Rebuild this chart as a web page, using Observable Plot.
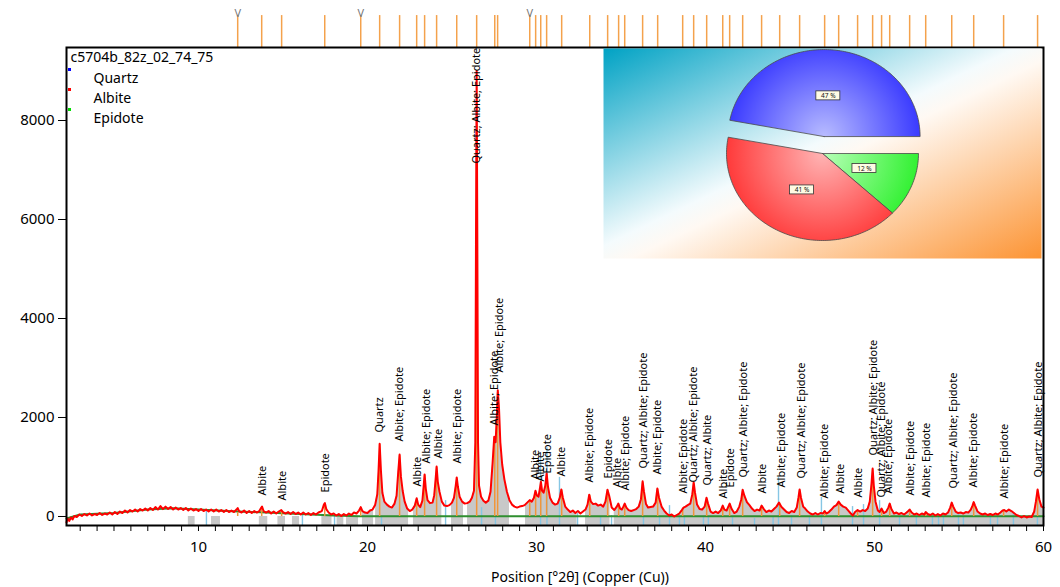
<!DOCTYPE html>
<html><head><meta charset="utf-8">
<script src="https://cdn.jsdelivr.net/npm/d3@7"></script>
<script src="https://cdn.jsdelivr.net/npm/@observablehq/plot@0.6"></script>
<style>
body{margin:0;background:#fff;}
#wrap{position:relative;width:1060px;height:587px;font-family:"Noto Sans",sans-serif;}
#main{position:absolute;left:0;top:0;}
#inset{position:absolute;left:603px;top:48px;}
</style></head><body><div id="wrap"><div id="main"></div><div id="inset"></div></div>
<script>
// ---------------- data ----------------
const sampleName = "c5704b_82z_02_74_75";
const axisTitle = "Position [°2θ] (Copper (Cu))";
const phases = ["Quartz", "Albite", "Epidote"];
const phasePercent = [47, 41, 12];
const xTicks = [10, 20, 30, 40, 50, 60];
const xMinorTicks = d3.range(3, 60);
const yTicks = [0, 2000, 4000, 6000, 8000];

// measured pattern: [2theta, counts]
const profile = [
[2.19,-120],[2.25,-40],[2.35,-90],[2.45,-20],[2.55,-60],[2.65,10],[2.8,-10],[2.95,40],[3.1,10],[3.25,50],[3.4,20],[3.55,60],[3.7,20],[3.85,50],[4.0,30],[4.15,70],[4.3,30],[4.45,60],[4.6,40],[4.75,80],[4.9,40],[5.05,90],[5.2,50],[5.35,100],[5.5,70],[5.65,120],[5.8,80],[5.95,130],[6.1,100],[6.25,140],[6.4,100],[6.55,150],[6.7,120],[6.85,160],[7.0,120],[7.15,170],[7.3,130],[7.45,190],[7.6,140],[7.75,210],[7.9,150],[8.05,200],[8.2,150],[8.35,190],[8.5,140],[8.65,180],[8.8,140],[8.95,170],[9.1,130],[9.25,170],[9.4,120],[9.55,160],[9.7,120],[9.85,150],[10.0,110],[10.15,150],[10.3,110],[10.45,140],[10.6,100],[10.75,140],[10.9,100],[11.05,140],[11.2,100],[11.35,130],[11.5,90],[11.65,130],[11.8,90],[11.95,120],[12.1,90],[12.25,140],[12.32,170],[12.4,110],[12.55,80],[12.7,120],[12.85,70],[13.0,110],[13.15,70],[13.3,110],[13.45,80],[13.6,110],[13.7,170],[13.76,200],[13.85,110],[14.0,80],[14.15,110],[14.3,60],[14.45,100],[14.6,60],[14.75,100],[14.9,130],[15.0,90],[15.15,60],[15.3,90],[15.45,50],[15.6,90],[15.75,50],[15.9,80],[16.05,40],[16.2,80],[16.35,40],[16.5,70],[16.65,30],[16.8,70],[16.95,40],[17.1,80],[17.3,110],[17.42,240],[17.48,270],[17.56,150],[17.7,80],[17.85,40],[18.0,60],[18.15,20],[18.3,50],[18.45,10],[18.6,50],[18.75,20],[18.9,60],[19.05,30],[19.2,80],[19.35,60],[19.5,120],[19.6,190],[19.7,110],[19.85,80],[20.0,70],[20.15,120],[20.3,140],[20.45,230],[20.58,450],[20.65,900],[20.72,1470],[20.8,900],[20.88,480],[21.0,300],[21.15,240],[21.3,200],[21.45,180],[21.6,260],[21.72,420],[21.82,900],[21.9,1250],[21.98,800],[22.08,520],[22.2,300],[22.35,160],[22.5,110],[22.65,140],[22.8,220],[22.91,370],[23.0,240],[23.12,190],[23.25,320],[23.32,600],[23.38,850],[23.45,560],[23.55,330],[23.7,270],[23.85,280],[23.95,430],[24.03,750],[24.09,1010],[24.16,700],[24.26,500],[24.4,300],[24.55,220],[24.7,210],[24.85,230],[25.0,280],[25.12,380],[25.22,620],[25.28,790],[25.35,600],[25.45,400],[25.6,300],[25.75,260],[25.9,270],[26.05,300],[26.18,380],[26.3,520],[26.38,1500],[26.42,5600],[26.46,9000],[26.5,5500],[26.54,1500],[26.6,620],[26.72,400],[26.86,320],[27.0,280],[27.15,320],[27.28,500],[27.4,1070],[27.5,1610],[27.58,1500],[27.65,2000],[27.71,2550],[27.78,2200],[27.86,1500],[27.97,1050],[28.1,750],[28.25,500],[28.4,330],[28.55,240],[28.7,200],[28.85,180],[29.0,200],[29.15,210],[29.3,230],[29.45,280],[29.6,330],[29.72,300],[29.85,380],[29.94,520],[30.03,420],[30.12,400],[30.2,560],[30.26,700],[30.33,520],[30.42,480],[30.52,620],[30.6,870],[30.68,600],[30.8,380],[30.95,280],[31.1,240],[31.25,260],[31.38,380],[31.47,545],[31.56,380],[31.7,200],[31.85,140],[32.0,90],[32.15,120],[32.3,70],[32.45,110],[32.6,60],[32.75,100],[32.9,140],[33.02,240],[33.12,440],[33.22,300],[33.35,250],[33.5,260],[33.65,220],[33.8,240],[33.95,200],[34.08,300],[34.2,540],[34.3,420],[34.45,180],[34.6,130],[34.75,200],[34.84,260],[34.95,160],[35.05,140],[35.14,200],[35.22,260],[35.32,180],[35.45,130],[35.6,110],[35.75,130],[35.9,150],[36.05,200],[36.18,350],[36.28,710],[36.36,500],[36.48,250],[36.6,180],[36.75,190],[36.9,200],[37.05,280],[37.15,565],[37.25,380],[37.4,200],[37.55,120],[37.7,60],[37.85,20],[38.0,40],[38.15,0],[38.3,30],[38.45,60],[38.6,130],[38.7,180],[38.82,200],[38.95,230],[39.1,260],[39.22,450],[39.3,690],[39.38,480],[39.5,240],[39.65,150],[39.8,140],[39.95,200],[40.06,380],[40.15,260],[40.3,100],[40.45,70],[40.6,100],[40.75,70],[40.9,120],[41.02,220],[41.12,140],[41.25,120],[41.43,260],[41.55,150],[41.7,70],[41.85,100],[42.0,200],[42.12,350],[42.2,540],[42.3,420],[42.45,290],[42.6,230],[42.75,160],[42.9,110],[43.05,140],[43.2,120],[43.32,220],[43.45,150],[43.6,90],[43.75,120],[43.9,100],[44.05,150],[44.2,200],[44.35,280],[44.5,190],[44.65,140],[44.8,90],[44.95,70],[45.1,110],[45.25,90],[45.4,180],[45.5,380],[45.57,545],[45.65,380],[45.78,200],[45.9,160],[46.05,100],[46.2,60],[46.35,40],[46.5,70],[46.65,40],[46.8,70],[46.95,60],[47.05,110],[47.15,60],[47.3,90],[47.45,140],[47.6,200],[47.75,230],[47.88,300],[48.0,240],[48.15,200],[48.3,180],[48.45,120],[48.6,60],[48.72,20],[48.85,90],[49.0,130],[49.15,100],[49.3,130],[49.45,110],[49.6,160],[49.72,300],[49.82,650],[49.89,970],[49.96,620],[50.06,300],[50.2,120],[50.3,90],[50.42,160],[50.55,70],[50.7,100],[50.82,180],[50.9,260],[51.0,150],[51.15,60],[51.3,80],[51.45,50],[51.6,70],[51.75,40],[51.9,80],[52.0,110],[52.08,140],[52.2,80],[52.35,40],[52.5,60],[52.65,30],[52.8,60],[52.95,40],[53.03,90],[53.15,50],[53.3,30],[53.45,60],[53.6,20],[53.75,50],[53.9,20],[54.05,60],[54.2,40],[54.35,80],[54.48,180],[54.57,280],[54.66,200],[54.8,100],[54.95,70],[55.1,80],[55.25,60],[55.4,90],[55.55,80],[55.7,140],[55.8,220],[55.87,290],[55.95,220],[56.1,100],[56.25,60],[56.4,40],[56.55,60],[56.7,30],[56.85,50],[57.0,30],[57.15,60],[57.3,40],[57.45,80],[57.58,120],[57.68,130],[57.8,100],[57.95,140],[58.1,110],[58.25,70],[58.4,30],[58.55,10],[58.7,-20],[58.85,10],[59.0,-20],[59.15,0],[59.3,-10],[59.45,100],[59.55,300],[59.65,545],[59.75,350],[59.88,200],[60.0,180]
];

// fitted background: [2theta, counts]
const backgroundLine = [[2.19,-40],[3,40],[5,70],[7,140],[8.5,165],[10,140],[12,105],[14,80],[16,50],[18,20],[19.5,5],[60,5]];

// identified peak positions (2theta) and stick heights (counts)
const peakPositions = [12.32,13.74,14.92,17.47,19.60,20.72,21.90,22.91,23.38,24.09,25.28,26.46,27.53,27.70,29.60,29.95,30.25,30.60,31.49,33.15,34.21,34.86,35.22,36.28,37.17,38.65,39.30,40.07,41.02,41.43,42.20,43.32,44.39,45.57,47.05,47.88,49.00,49.89,50.42,50.90,52.08,53.03,54.57,55.87,57.64,59.65];
const peakHeights = [80,180,120,260,180,1450,1230,350,830,990,770,5600,1600,2500,300,500,700,850,530,430,530,250,250,690,550,160,670,360,200,250,520,200,270,530,100,250,120,950,150,250,130,80,270,280,120,530];
const markedPeaks = [12.32, 19.60, 29.60];

// peak labels: [2theta, counts at label start, text]
const peakLabels = [
[13.79,424,"Albite"],[14.97,323,"Albite"],[17.52,485,"Epidote"],[20.71,1697,"Quartz"],
[21.89,1515,"Albite; Epidote"],[22.96,606,"Albite"],[23.49,1070,"Albite; Epidote"],[24.20,1172,"Albite"],
[25.33,1070,"Albite; Epidote"],[26.45,7130,"Quartz; Albite; Epidote"],[27.52,1838,"Albite; Epidote"],[27.81,2909,"Albite; Epidote"],
[29.94,747,"Albite"],[30.24,707,"Albite"],[30.65,869,"Epidote"],[31.48,808,"Albite"],
[33.14,687,"Albite; Epidote"],[34.26,768,"Epidote"],[34.79,586,"Albite"],[35.27,525,"Albite; Epidote"],
[36.33,970,"Quartz; Albite; Epidote"],[37.16,848,"Albite; Epidote"],[38.70,465,"Albite; Epidote"],[39.29,687,"Quartz; Albite; Epidote"],
[40.12,626,"Quartz; Albite"],[41.07,364,"Albite"],[41.48,586,"Epidote"],[42.25,788,"Quartz; Albite; Epidote"],
[43.37,465,"Albite"],[44.50,586,"Albite; Epidote"],[45.68,768,"Quartz; Albite; Epidote"],[47.04,364,"Albite; Epidote"],
[47.99,465,"Albite"],[49.05,384,"Albite"],[49.94,1232,"Quartz; Albite; Epidote"],[50.42,384,"Quartz; Albite; Epidote"],
[50.85,465,"Albite; Epidote"],[52.13,424,"Albite; Epidote"],[53.08,384,"Albite; Epidote"],[54.68,566,"Quartz; Albite; Epidote"],
[55.86,586,"Albite; Epidote"],[57.69,364,"Albite; Epidote"],[59.70,788,"Quartz; Albite; Epidote"]
];

// reference pattern sticks: [2theta, top counts]
const refSticks = [[10.47,120],[16.15,20],[18.05,0],[20.83,-20],[24.62,320],[26.75,180],[27.57,0],[30.24,1190],[30.62,1390],[31.36,790],[32.43,60],[33.79,-20],[34.44,20],[36.33,-20],[37.28,-20],[37.87,220],[38.46,-20],[38.75,-20],[39.88,-20],[40.17,-20],[41.6,-20],[42.9,-40],[44.0,-20],[44.32,790],[45.09,20],[46.15,-20],[46.86,385],[48.7,200],[49.35,240],[50.3,320],[51.48,-20],[52.48,-20],[53.43,-20],[53.79,-20],[54.08,-20],[54.97,60],[55.26,-20],[56.86,60],[57.28,-20],[58.22,80],[59.64,-20]];

// fitted regions (shaded)
const grayBands = [[9.4,9.8],[10.77,11.3],[13.6,14.1],[14.7,15.15],[15.56,15.98],[17.3,17.9],[18.2,18.6],[18.76,19.47]];
const fitStart = 19.7;
const whiteGaps = [[20.36,20.48],[22.43,22.72],[24.4,24.97],[25.68,25.92],[28.4,29.35],[32.4,32.9],[34.35,34.6]];

// ---------------- main chart ----------------
const yMin = -182, yMax = 9475, tickTop = 10120;
const P = profile.map(([t, c]) => ({t, c}));
const font = "'Noto Sans', sans-serif";
const legendColors = ["#0000ff", "#ff0000", "#00dd00"];

const legendMarks = phases.flatMap((p, i) => [
  Plot.dot([p], {frameAnchor: "top-left", dx: 3, dy: 22 + 20 * i, symbol: "square", r: 1.7, fill: legendColors[i], stroke: null}),
  Plot.text([p], {frameAnchor: "top-left", dx: 27, dy: 31 + 20 * i, textAnchor: "start", lineAnchor: "middle", fontSize: 14, fill: "black"})
]);

const main = Plot.plot({
  width: 1060, height: 587,
  marginLeft: 66, marginRight: 17, marginTop: 47, marginBottom: 62,
  style: {fontFamily: font, fontSize: "15px", background: "transparent", overflow: "visible", color: "black"},
  x: {domain: [2.19, 60], label: null},
  y: {domain: [yMin, yMax], label: null},
  marks: [
    Plot.areaY(P.filter(d => d.t >= fitStart), {x: "t", y1: yMin, y2: "c", fill: "#c8c8c8"}),
    Plot.rect(whiteGaps, {x1: d => d[0], x2: d => d[1], y1: yMin, y2: yMax, fill: "white"}),
    Plot.rect(grayBands, {x1: d => d[0], x2: d => d[1], y1: yMin, y2: 0, fill: "#c8c8c8"}),
    Plot.ruleX(refSticks, {x: d => d[0], y1: yMin, y2: d => d[1], stroke: "#86c6e4", strokeWidth: 1.4}),
    Plot.line(backgroundLine, {x: d => d[0], y: d => d[1], stroke: "#2f8f2f", strokeWidth: 2}),
    Plot.ruleX(peakPositions, {x: d => d, y1: 0, y2: (d, i) => peakHeights[i], stroke: "#f0963a", strokeWidth: 1.5}),
    Plot.line(P, {x: "t", y: "c", stroke: "#ff0000", strokeWidth: 2}),
    Plot.text(peakLabels, {x: d => d[0], y: d => d[1], text: d => d[2], rotate: -90, textAnchor: "start", lineAnchor: "middle", fontSize: 11, fill: "black"}),
    Plot.ruleX(peakPositions, {x: d => d, y1: yMax, y2: tickTop, stroke: "#f4a24c", strokeWidth: 1.5}),
    Plot.text(markedPeaks, {x: d => d, y: tickTop, text: () => "V", lineAnchor: "bottom", dy: 1, fill: "#777", fontSize: 11}),
    Plot.axisY(yTicks, {tickSize: 8, tickPadding: 4, label: null, fontSize: 15, tickFormat: d => String(d)}),
    Plot.axisX(xMinorTicks, {tickSize: 6, tickFormat: () => "", label: null}),
    Plot.axisX(xTicks, {tickSize: 6, tickPadding: 10, label: null, fontSize: 15}),
    Plot.frame({stroke: "black", strokeWidth: 2}),
    Plot.text([axisTitle], {frameAnchor: "bottom", dx: 25, dy: 52, lineAnchor: "middle", fontSize: 14}),
    Plot.text([sampleName], {frameAnchor: "top-left", dx: 4, dy: 10, textAnchor: "start", lineAnchor: "middle", fontSize: 14}),
    ...legendMarks
  ]
});
document.getElementById("main").appendChild(main);

// ---------------- inset pie ----------------
const W = 438, H = 210;
const cx = 219, cy = 105, rx = 96, ry = 87, explodeBy = 17;
const sliceOrder = [2, 1, 0]; // drawn clockwise from east: Epidote, Albite, Quartz
const explodedPhase = "Quartz";
const sliceColors = {Quartz: ["#b8bcff", "#3434ff"], Albite: ["#ffb4b4", "#ff3434"], Epidote: ["#b8ffb8", "#2cf02c"]};

let acc = 0;
const slices = sliceOrder.map(i => {
  const a0 = acc / 100 * 2 * Math.PI;
  acc += phasePercent[i];
  const a1 = acc / 100 * 2 * Math.PI;
  const mid = (a0 + a1) / 2;
  const off = phases[i] === explodedPhase ? explodeBy : 0;
  const ox = cx + off * Math.cos(mid), oy = cy + off * Math.sin(mid);
  const pts = [{x: ox, y: oy}];
  const n = Math.max(4, Math.ceil((a1 - a0) / 0.02));
  for (let k = 0; k <= n; k++) {
    const a = a0 + (a1 - a0) * k / n;
    pts.push({x: ox + rx * Math.cos(a), y: oy + ry * Math.sin(a)});
  }
  pts.push({x: ox, y: oy});
  return {name: phases[i], pct: phasePercent[i], pts, ox, oy,
          lx: ox + 0.47 * rx * Math.cos(mid), ly: oy + 0.47 * ry * Math.sin(mid)};
});

const inset = Plot.plot({
  width: W, height: H, margin: 0,
  style: {background: "transparent", overflow: "visible", fontFamily: font},
  x: {domain: [0, W], range: [0, W], axis: null},
  y: {domain: [0, H], range: [0, H], axis: null},
  marks: [
    Plot.frame({fill: "url(#bgGrad)", stroke: null}),
    ...slices.map(s => Plot.line(s.pts, {x: "x", y: "y", fill: `url(#grad${s.name})`, stroke: "#4a4a4a", strokeWidth: 0.8})),
    Plot.rect(slices, {x1: d => d.lx - 12, x2: d => d.lx + 12, y1: d => d.ly - 4.5, y2: d => d.ly + 4.5, fill: "#fffbe4", stroke: "#333", strokeWidth: 0.8}),
    Plot.text(slices, {x: "lx", y: "ly", text: d => d.pct + " %", fontSize: 6.5, fill: "#111"})
  ]
});
document.getElementById("inset").appendChild(inset);

const defs = d3.select(inset).insert("defs", ":first-child");
const bg = defs.append("linearGradient").attr("id", "bgGrad").attr("x1", 0).attr("y1", 0).attr("x2", 1).attr("y2", 1);
[[0, "#00a2c4"], [0.47, "#f4fbfd"], [0.53, "#fff9f3"], [1, "#fc9434"]].forEach(([o, c]) =>
  bg.append("stop").attr("offset", o).attr("stop-color", c));
slices.forEach(s => {
  const g = defs.append("radialGradient").attr("id", "grad" + s.name)
    .attr("gradientUnits", "userSpaceOnUse").attr("cx", s.ox).attr("cy", s.oy).attr("r", rx * 1.05);
  g.append("stop").attr("offset", 0).attr("stop-color", sliceColors[s.name][0]);
  g.append("stop").attr("offset", 1).attr("stop-color", sliceColors[s.name][1]);
});
</script></body></html>
